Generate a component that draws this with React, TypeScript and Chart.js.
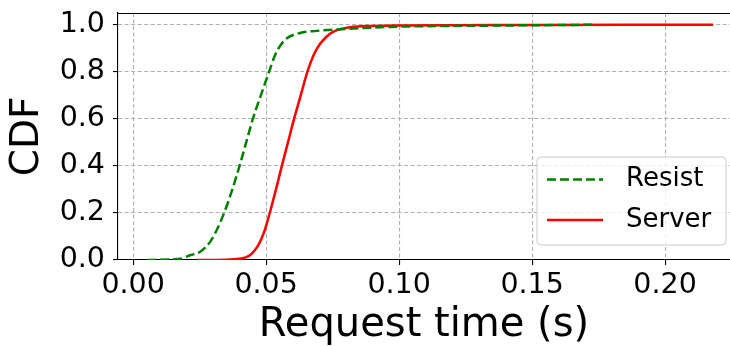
import { useEffect, useRef } from "react";
import { Chart, registerables } from "chart.js";

Chart.register(...registerables);

const seriesLabels = ["Resist", "Server"];

const resistX = [0.0053, 0.010, 0.015, 0.0177, 0.0214, 0.0252, 0.029, 0.0317, 0.0342, 0.0370, 0.0400, 0.0425, 0.0450, 0.0480, 0.0511, 0.0535, 0.0571, 0.0628, 0.069, 0.078, 0.090, 0.100, 0.130, 0.174];
const resistY = [0, 0.001, 0.003, 0.005, 0.02, 0.035, 0.078, 0.134, 0.20, 0.29, 0.40, 0.50, 0.60, 0.70, 0.80, 0.875, 0.936, 0.965, 0.974, 0.981, 0.988, 0.992, 0.996, 1.0];

const serverX = [0.024, 0.035, 0.040, 0.042, 0.044, 0.0455, 0.047, 0.0483, 0.0495, 0.0505, 0.0515, 0.0537, 0.0559, 0.0582, 0.0605, 0.063, 0.0655, 0.068, 0.0703, 0.0728, 0.0753, 0.0816, 0.090, 0.100, 0.150, 0.218];
const serverY = [0, 0.001, 0.005, 0.01, 0.021, 0.038, 0.062, 0.092, 0.128, 0.165, 0.205, 0.30, 0.40, 0.50, 0.60, 0.70, 0.80, 0.875, 0.919, 0.95, 0.971, 0.99, 0.995, 0.997, 0.999, 1.0];

const xTicks = [0, 0.05, 0.1, 0.15, 0.2];
const yTicks = [0, 0.2, 0.4, 0.6, 0.8, 1.0];

const xTitle = "Request time (s)";
const yTitle = "CDF";

const FONT = "'DejaVu Sans', sans-serif";

const legendPlugin = {
  id: "mplLegend",
  afterDatasetsDraw(chart: any) {
    const { ctx, chartArea } = chart;
    const w = 189;
    const h = 88;
    const right = chartArea.right - 4;
    const bottom = chartArea.bottom - 15;
    const left = right - w;
    const top = bottom - h;
    ctx.save();
    ctx.beginPath();
    const r = 4;
    ctx.moveTo(left + r, top);
    ctx.lineTo(left + w - r, top);
    ctx.quadraticCurveTo(left + w, top, left + w, top + r);
    ctx.lineTo(left + w, top + h - r);
    ctx.quadraticCurveTo(left + w, top + h, left + w - r, top + h);
    ctx.lineTo(left + r, top + h);
    ctx.quadraticCurveTo(left, top + h, left, top + h - r);
    ctx.lineTo(left, top + r);
    ctx.quadraticCurveTo(left, top, left + r, top);
    ctx.closePath();
    ctx.fillStyle = "rgba(255,255,255,0.8)";
    ctx.fill();
    ctx.lineWidth = 1;
    ctx.strokeStyle = "#cccccc";
    ctx.stroke();
    chart.data.datasets.forEach((ds: any, i: number) => {
      const cy = top + 22.5 + i * 40.5;
      ctx.beginPath();
      ctx.setLineDash(ds.borderDash || []);
      ctx.lineWidth = ds.borderWidth;
      ctx.strokeStyle = ds.borderColor;
      ctx.moveTo(left + 10, cy);
      ctx.lineTo(left + 66, cy);
      ctx.stroke();
      ctx.setLineDash([]);
      ctx.fillStyle = "#000";
      ctx.font = `26px ${FONT}`;
      ctx.textBaseline = "middle";
      ctx.textAlign = "left";
      ctx.fillText(ds.label, left + 89, cy);
    });
    ctx.restore();
  },
};

const topSpinePlugin = {
  id: "topSpine",
  afterDraw(chart: any) {
    const { ctx, chartArea } = chart;
    ctx.save();
    ctx.strokeStyle = "#000";
    ctx.lineWidth = 1.1;
    ctx.beginPath();
    ctx.moveTo(chartArea.left, chartArea.top + 0.5);
    ctx.lineTo(chartArea.right, chartArea.top + 0.5);
    ctx.stroke();
    ctx.restore();
  },
};

export default function App() {
  const ref = useRef<HTMLCanvasElement | null>(null);

  useEffect(() => {
    if (!ref.current) return;
    const chart = new Chart(ref.current, {
      type: "line",
      data: {
        datasets: [
          {
            label: seriesLabels[0],
            data: resistX.map((x, i) => ({ x, y: resistY[i] })),
            borderColor: "#008000",
            borderWidth: 2.5,
            borderDash: [9, 4],
            pointRadius: 0,
            fill: false,
            cubicInterpolationMode: "monotone",
          },
          {
            label: seriesLabels[1],
            data: serverX.map((x, i) => ({ x, y: serverY[i] })),
            borderColor: "#ff0000",
            borderWidth: 2.5,
            pointRadius: 0,
            fill: false,
            cubicInterpolationMode: "monotone",
          },
        ],
      },
      options: {
        animation: false,
        responsive: false,
        layout: { padding: { top: 13, left: 0, right: 0, bottom: 0 } },
        plugins: { legend: { display: false }, tooltip: { enabled: false } },
        scales: {
          x: {
            type: "linear",
            min: -0.0057,
            max: 0.2244,
            afterBuildTicks: (s: any) => {
              s.ticks = xTicks.map((v) => ({ value: v }));
            },
            afterFit: (s: any) => {
              s.height = 86;
              s.paddingLeft = 0;
              s.paddingRight = 0;
            },
            ticks: {
              color: "#000",
              font: { family: FONT, size: 28.5, lineHeight: 1.2 },
              padding: 3,
              maxRotation: 0,
              callback: (v: any) => Number(v).toFixed(2),
            },
            grid: {
              color: "#b0b0b0",
              lineWidth: 1.1,
              tickLength: 5,
              tickColor: "#000",
              tickWidth: 1.1,
              tickBorderDash: [],
            },
            border: { display: true, color: "#000", width: 1.1, dash: [4, 2.5] },
            title: {
              display: true,
              text: xTitle,
              color: "#000",
              font: { family: FONT, size: 40, lineHeight: 1 },
              padding: { top: 0, bottom: 0.5 },
            },
          },
          y: {
            type: "linear",
            min: 0,
            max: 1.05,
            afterBuildTicks: (s: any) => {
              s.ticks = yTicks.map((v) => ({ value: v }));
            },
            afterFit: (s: any) => {
              s.width = 118;
              s.paddingTop = 0;
              s.paddingBottom = 0;
            },
            ticks: {
              color: "#000",
              font: { family: FONT, size: 28.5, lineHeight: 1.2 },
              padding: 8,
              callback: (v: any) => Number(v).toFixed(1),
            },
            grid: {
              color: "#b0b0b0",
              lineWidth: 1.1,
              tickLength: 5,
              tickColor: "#000",
              tickWidth: 1.1,
              tickBorderDash: [],
            },
            border: { display: true, color: "#000", width: 1.1, dash: [4, 2.5] },
            title: {
              display: true,
              text: yTitle,
              color: "#000",
              font: { family: FONT, size: 39, lineHeight: 1 },
              padding: { top: 8, bottom: 0 },
            },
          },
        },
      },
      plugins: [legendPlugin, topSpinePlugin],
    } as any);
    return () => chart.destroy();
  }, []);

  return (
    <div style={{ position: "absolute", left: 0, top: 0, width: 730, height: 346, background: "#fff" }}>
      <canvas ref={ref} width={730} height={346} style={{ width: 730, height: 346, display: "block" }} />
    </div>
  );
}
